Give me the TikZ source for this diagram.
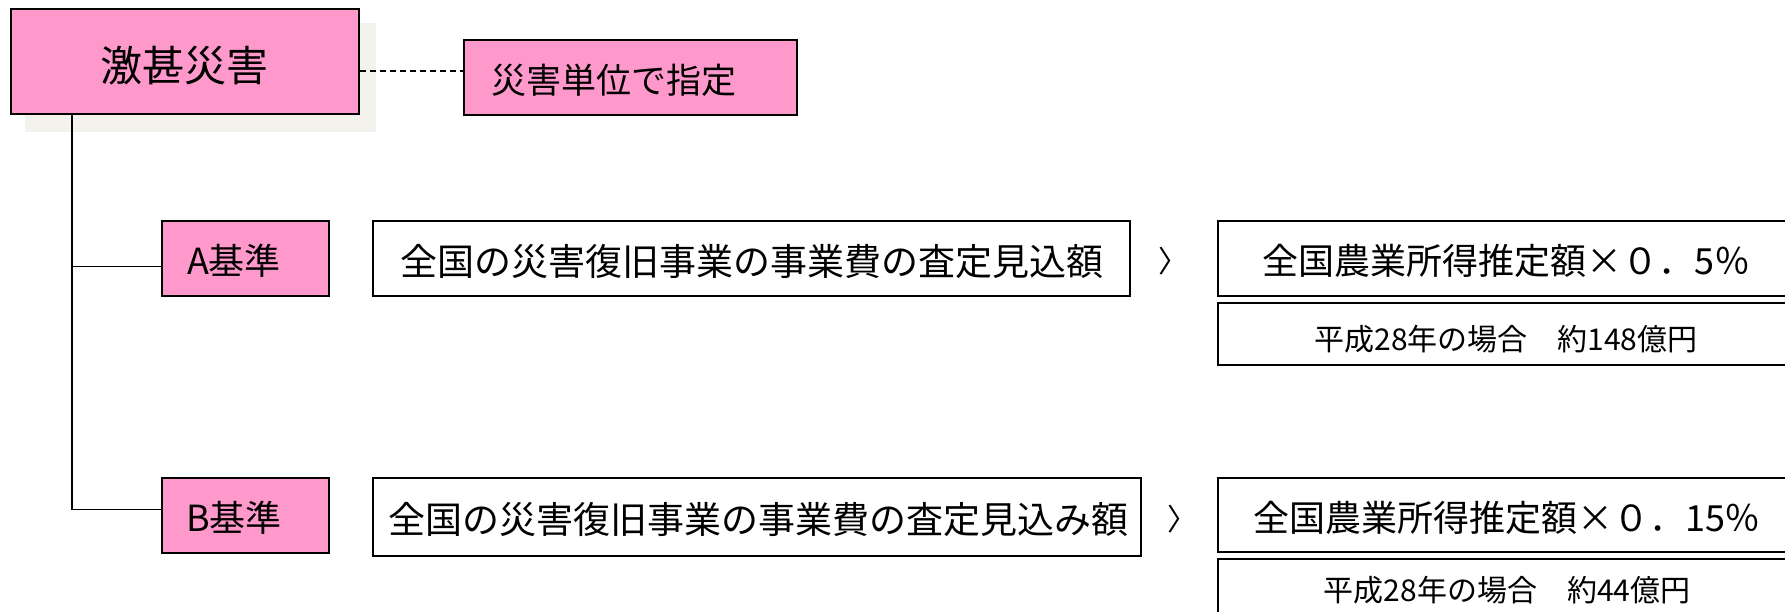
\documentclass[tikz,border=0pt]{standalone}
\usepackage{fontspec}
\setmainfont{Noto Sans CJK JP}
\definecolor{pinkfill}{HTML}{FF99CC}
\definecolor{shadowc}{HTML}{F3F2EC}
\tikzset{
  pinkbox/.style={draw=black, line width=1.5pt, fill=pinkfill, inner sep=0pt, anchor=center},
  whitebox/.style={draw=black, line width=1.5pt, fill=white, inner sep=0pt, anchor=center},
  conn/.style={draw=black, line width=1.5pt},
  dconn/.style={draw=black, line width=1.3pt, dash pattern=on 6pt off 4pt},
  lbl/.style={inner sep=0pt, anchor=center}
}
\begin{document}
\begin{tikzpicture}[x=1pt,y=-1pt]
\useasboundingbox (0,0) rectangle (1785,612);
\clip (0,0) rectangle (1785,612);
% shadow
\fill[shadowc] (25,23) rectangle (376,132);
% boxes
\node[pinkbox, minimum width=348pt, minimum height=105pt] (main) at (185,61.5) {};
\node[lbl, font=\fontsize{42}{46}\selectfont] (mainT) at (184,66) {激甚災害};
\node[pinkbox, minimum width=333pt, minimum height=75pt] (note) at (630.5,77.5) {};
\node[lbl, font=\fontsize{35}{40}\selectfont] (noteT) at (614,80) {災害単位で指定};

\node[pinkbox, minimum width=167pt, minimum height=75pt] (A) at (245.5,258.5) {};
\node[lbl, font=\fontsize{36}{40}\selectfont] (AT) at (234,261) {A基準};
\node[pinkbox, minimum width=167pt, minimum height=75pt] (B) at (245.5,515.5) {};
\node[lbl, font=\fontsize{36}{40}\selectfont] (BT) at (234,518) {B基準};

\node[whitebox, minimum width=757pt, minimum height=75pt] (Along) at (751.5,258.5) {};
\node[lbl, font=\fontsize{37}{42}\selectfont] (AlongT) at (752,261) {全国の災害復旧事業の事業費の査定見込額};
\node[whitebox, minimum width=768pt, minimum height=78pt] (Blong) at (757,517) {};
\node[lbl, font=\fontsize{37}{42}\selectfont] (BlongT) at (758,519) {全国の災害復旧事業の事業費の査定見込み額};

\node[lbl, font=\fontsize{30}{34}\selectfont] (gtA) at (1173,261) {〉};
\node[lbl, font=\fontsize{30}{34}\selectfont] (gtB) at (1182,519) {〉};

\node[whitebox, minimum width=577pt, minimum height=75pt] (Aright) at (1506.5,258.5) {};
\node[lbl, font=\fontsize{36}{40}\selectfont] (ArightT) at (1506,261) {全国農業所得推定額×０．5％};
\node[whitebox, minimum width=577pt, minimum height=62pt] (Asub) at (1506.5,334) {};
\node[lbl, font=\fontsize{30}{34}\selectfont] (AsubT) at (1506,339) {平成28年の場合　約148億円};

\node[whitebox, minimum width=577pt, minimum height=74pt] (Bright) at (1506.5,515) {};
\node[lbl, font=\fontsize{36}{40}\selectfont] (BrightT) at (1507,518) {全国農業所得推定額×０．15％};
\node[whitebox, minimum width=577pt, minimum height=62pt] (Bsub) at (1506.5,590) {};
\node[lbl, font=\fontsize{30}{34}\selectfont] (BsubT) at (1507,590) {平成28年の場合　約44億円};

% connectors
\coordinate (trunk) at (72,0);
\draw[dconn] (main.east |- 0,71) -- (note.west |- 0,71);
\draw[conn] (main.south -| trunk) |- ([yshift=-8pt]A.west);
\draw[conn] (main.south -| trunk) |- ([yshift=6pt]B.west);
\end{tikzpicture}
\end{document}
